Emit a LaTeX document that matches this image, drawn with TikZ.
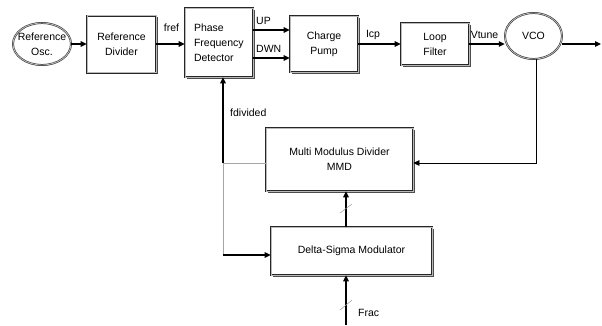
\documentclass[tikz,border=0pt]{standalone}
\usepackage{fontspec}
\setmainfont{Liberation Sans}
\usetikzlibrary{arrows.meta,shapes.geometric,shadows,calc}
\begin{document}
\begin{tikzpicture}[x=1pt,y=-1pt,
  txt/.style={font=\fontsize{10.5}{15}\selectfont},
  blk/.style={txt, draw=black!85, line width=0.6pt, double=gray!55, double distance=0.8pt,
    fill=white, inner sep=0pt, align=center,
    drop shadow={shadow xshift=1.5pt, shadow yshift=-1.5pt, fill=black!70, opacity=1}},
  ell/.style={ellipse, draw=black!85, line width=0.5pt, double=gray!55, double distance=0.9pt,
    fill=white, inner sep=0pt},
  lbl/.style={txt, inner sep=0pt},
  arr/.style={-{Triangle[length=6pt,width=5.5pt]}, line width=1.1pt},
  tarr/.style={-{Triangle[length=6pt,width=5.5pt]}, line width=0.6pt},
  gline/.style={draw=gray!70, line width=0.8pt},
  slash/.style={draw=gray!80, line width=0.5pt}
]
\useasboundingbox (0,0) rectangle (602,325);

% blocks
\node[ell, minimum width=58, minimum height=42,
  label={[lbl, align=center]center:Reference\\Osc.}] (refosc) at (42,44) {};
\node[blk, minimum width=69, minimum height=57] (refdiv) at (121.5,44) {Reference\\Divider};
\node[blk, minimum width=68, minimum height=69, text width=50, align=left] (pfd) at (219,42.5) {Phase\\Frequency\\Detector};
\node[blk, minimum width=68, minimum height=56] (cp) at (324,44) {Charge\\Pump};
\node[blk, minimum width=68, minimum height=42] (lf) at (435,44) {Loop\\Filter};
\node[ell, minimum width=57, minimum height=46,
  label={[lbl]center:VCO}] (vco) at (533.5,36) {};
\node[blk, minimum width=147, minimum height=63] (mmd) at (339.5,159.5) {Multi Modulus Divider\\MMD};
\node[blk, minimum width=161, minimum height=48] (dsm) at (351.5,251) {Delta-Sigma Modulator};

% labels
\node[lbl] (fref) at (171.5,28) {fref};
\node[lbl, anchor=west] (uplbl) at (256,21) {UP};
\node[lbl, anchor=west] (dwnlbl) at (256,49) {DWN};
\node[lbl] (icp) at (373,35) {Icp};
\node[lbl] (vtune) at (484.5,35) {Vtune};
\node[lbl, anchor=west] (fdiv) at (230,113) {fdivided};
\node[lbl, anchor=west] (frac) at (358,313) {Frac};

% forward path
\draw[arr] (refosc.east) -- (refdiv.west);
\draw[arr] (refdiv.east) -- (refdiv.east -| pfd.west);
\coordinate (upin) at ($(cp.west)+(0,-14)$);
\coordinate (dwnin) at ($(cp.west)+(0,14)$);
\draw[arr] (upin -| pfd.east) -- (upin);
\draw[arr] (dwnin -| pfd.east) -- (dwnin);
\draw[arr] (cp.east) -- (lf.west);
\draw[arr] (lf.east) -- (lf.east -| vco.west);
\coordinate (vcoout) at (601,44);
\draw[arr] (vcoout -| vco.east) -- (vcoout);

% feedback
\coordinate (vcodn) at (536,0);
\draw[tarr] (vcodn |- vco.south) |- ($(mmd.east)+(0,3.5)$);
\coordinate (fbx) at (223,163);
\draw[gline] ($(mmd.west)+(0,3.5)$) -- (fbx);
\draw[arr] (fbx) -- (fbx |- pfd.south);
\coordinate (j2) at (223,255);
\draw[gline] (fbx) -- (j2);
\draw[arr] (j2) -- (j2 -| dsm.west);

% buses
\coordinate (busx) at (346,0);
\draw[arr] (busx |- dsm.north) -- (busx |- mmd.south);
\coordinate (fracin) at (346,325);
\draw[arr] (fracin) -- (fracin |- dsm.south);
\draw[slash] (340,213) -- (352,204);
\draw[slash] (340,310) -- (352,300);
\end{tikzpicture}
\end{document}
